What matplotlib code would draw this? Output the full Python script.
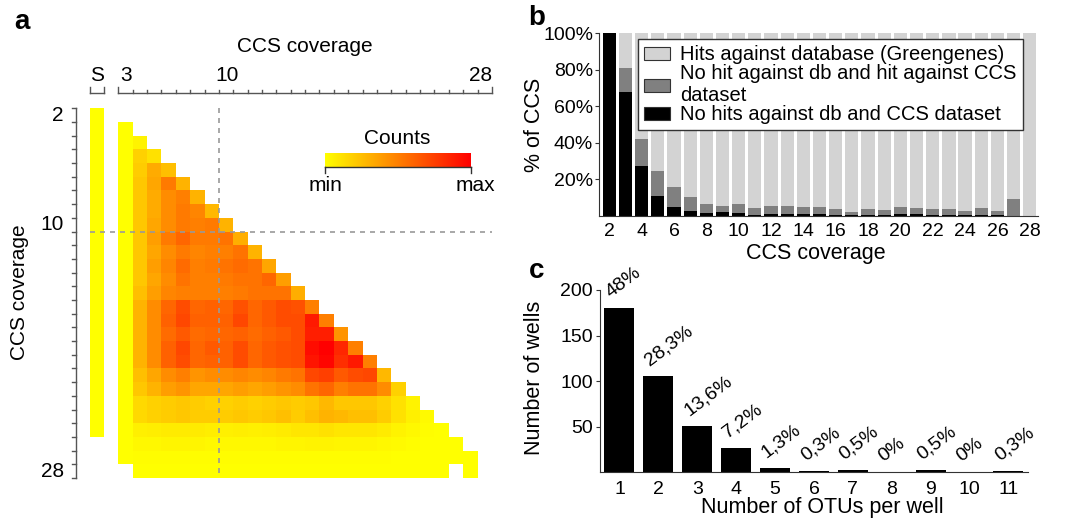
import numpy as np
import matplotlib
matplotlib.use('Agg')
import matplotlib.pyplot as plt
from matplotlib.colors import LinearSegmentedColormap
from matplotlib.patches import Patch

plt.rcParams['font.family'] = ['Liberation Sans', 'DejaVu Sans']

W, H = 1075, 519

# ---------------- panel a: colour level 0 (min) .. 100 (max)
# column "S", rows 2..25
s_col = [0, 0, 0, 0, 0, 0, 0, 0, 0, 0, 0, 0,
         0, 0, 0, 0, 0, 0, 0, 0, 0, 0, 0, 0]
# rows 3..28, values for columns 3, 4, 5, ... (None = no cell)
heat = [
    [0],
    [0, 5],
    [0, 18, 12],
    [0, 20, 33, 25],
    [0, 22, 35, 52, 30],
    [0, 22, 33, 45, 50, 30],
    [0, 22, 33, 45, 52, 48, 28],
    [0, 22, 35, 45, 52, 50, 52, 30],
    [0, 22, 38, 52, 60, 52, 52, 55, 32],
    [0, 22, 35, 45, 52, 48, 50, 50, 55, 30],
    [0, 22, 38, 48, 58, 50, 52, 55, 58, 55, 35],
    [0, 22, 35, 45, 55, 50, 50, 52, 55, 55, 60, 38],
    [0, 25, 38, 48, 50, 50, 50, 50, 52, 55, 55, 55, 32],
    [0, 30, 45, 60, 70, 60, 62, 60, 68, 60, 65, 70, 68, 50],
    [0, 30, 45, 62, 72, 62, 62, 62, 72, 60, 65, 70, 70, 90, 50],
    [0, 30, 45, 58, 65, 58, 60, 60, 62, 58, 62, 65, 70, 88, 88, 42],
    [0, 30, 45, 62, 72, 60, 65, 62, 70, 60, 65, 68, 70, 95, 100, 85, 50],
    [0, 30, 45, 62, 70, 60, 62, 62, 70, 60, 65, 68, 70, 92, 98, 82, 90, 50],
    [0, 25, 35, 45, 50, 42, 45, 45, 48, 45, 48, 52, 55, 72, 75, 65, 70, 72, 28],
    [0, 22, 30, 38, 42, 35, 35, 35, 38, 35, 38, 42, 45, 55, 60, 50, 55, 55, 45, 18],
    [0, 15, 18, 20, 22, 20, 18, 18, 20, 18, 20, 22, 20, 22, 28, 22, 22, 22, 18, 12, 5],
    [0, 15, 18, 20, 22, 20, 20, 20, 22, 20, 22, 25, 20, 25, 30, 28, 25, 25, 20, 12, 6, 2],
    [0, 6, 7, 8, 8, 8, 7, 6, 7, 6, 7, 8, 10, 10, 12, 10, 10, 10, 8, 5, 3, 1, 0],
    [0, 3, 3, 4, 4, 4, 3, 3, 3, 3, 3, 4, 4, 5, 5, 4, 4, 4, 3, 2, 1, 0, 0, 0],
    [0, 1, 1, 1, 1, 1, 1, 1, 1, 1, 1, 1, 1, 1, 1, 1, 1, 1, 1, 0, 0, 0, 0, 0, 0],
    [None, 0, 0, 0, 0, 0, 0, 0, 0, 0, 0, 0, 0, 0, 0, 0, 0, 0, 0, 0, 0, 0, 0, None, 0],
]

# ---------------- panel b: % of CCS
cov_b = [2, 3, 4, 5, 6, 7, 8, 9, 10, 11, 12, 13, 14, 15, 16, 17, 18, 19, 20,
         21, 22, 23, 24, 25, 26, 27, 28]
no_hits = [100, 68.0, 27.4, 10.8, 4.9, 2.7, 1.6, 1.8, 1.3, 0.4, 1.1, 0.7, 0.9, 0.9,
           0.4, 0.2, 0.4, 0.3, 0.7, 0.7, 0.3, 0.3, 0.2, 0.2, 0.2, 0.0, 0.0]
ccs_only = [0, 12.8, 14.5, 13.9, 10.6, 7.3, 4.6, 3.7, 4.9, 4.0, 4.2, 4.6, 3.7, 3.9,
            3.3, 1.8, 3.4, 3.0, 4.1, 3.7, 3.4, 3.4, 2.5, 3.8, 2.5, 9.0, 0.0]
db_hits = [0, 19.2, 58.1, 75.3, 84.5, 90.0, 93.8, 94.5, 93.8, 95.6, 94.7, 94.7, 95.4,
           95.2, 96.3, 98.0, 96.2, 96.7, 95.2, 95.6, 96.3, 96.3, 97.3, 96.0, 97.3,
           91.0, 100]
legend_labels = ['Hits against database (Greengenes)',
                 'No hit against db and hit against CCS\ndataset',
                 'No hits against db and CCS dataset']

# ---------------- panel c: wells
otus = [1, 2, 3, 4, 5, 6, 7, 8, 9, 10, 11]
wells = [180, 106, 51, 27, 5, 1, 2, 0, 2, 0, 1]
pct_labels = ['48%', '28,3%', '13,6%', '7,2%', '1,3%', '0,3%', '0,5%', '0%',
              '0,5%', '0%', '0,3%']


def fx(x):
    return x / W


def fy(y):
    return 1 - y / H


fig = plt.figure(figsize=(W / 100, H / 100), dpi=100)
cmap = LinearSegmentedColormap.from_list('yr', ['#ffff00', '#ff0000'])
FA = 15      # panel a text
FT = 14      # tick labels b, c
FL = 15.5    # axis labels b, c
FG = 14.5    # legend

# ================= panel a
ax = fig.add_axes([fx(75.2), fy(478), 423.9 / W, (478 - 108.3) / H])
M = np.full((27, 28), np.nan)
for i, v in enumerate(s_col):
    M[i, 0] = v
for i, row in enumerate(heat):
    for j, v in enumerate(row):
        if v is not None:
            M[i + 1, 2 + j] = v
ax.pcolormesh(np.arange(1, 30), np.arange(2, 30), np.ma.masked_invalid(M),
              cmap=cmap, vmin=0, vmax=100, antialiased=False)
ax.set_xlim(0, 29.5)
ax.set_ylim(29, 2)
ax.axis('off')

gc = '#555555'
# left axis
xa = 0.054
ax.plot([xa, xa], [2, 29], color=gc, lw=1, clip_on=False)
for y in range(2, 30):
    ax.plot([xa, xa - 0.3], [y, y], color=gc, lw=1, clip_on=False)
for lab in [2, 10, 28]:
    ax.text(-0.78, lab + 0.5, str(lab), ha='right', va='center', fontsize=FA)
# top axis
yt = 0.88
ax.plot([3, 29], [yt, yt], color=gc, lw=1, clip_on=False)
for x in range(4, 29):
    ax.plot([x, x], [yt, yt - 0.22], color=gc, lw=1, clip_on=False)
for x in [3, 29]:
    ax.plot([x, x], [yt, yt - 0.45], color=gc, lw=1, clip_on=False)
ax.plot([1, 2], [yt, yt], color=gc, lw=1, clip_on=False)
for x in [1, 2]:
    ax.plot([x, x], [yt, yt - 0.45], color=gc, lw=1, clip_on=False)
for x, lab in [(1.5, 'S'), (3.53, '3'), (10.54, '10'), (28.2, '28')]:
    ax.text(x, yt - 0.58, lab, ha='center', va='bottom', fontsize=FA)

# dashed guides
ax.plot([10, 10], [2, 29], color='#999999', lw=1.2, ls=(0, (3, 3)), clip_on=False)
ax.plot([1, 29], [11, 11], color='#999999', lw=1.2, ls=(0, (3, 3)), clip_on=False)

fig.text(fx(305), fy(47), 'CCS coverage', ha='center', va='center', fontsize=FA)
fig.text(fx(20), fy(292), 'CCS coverage', ha='center', va='center',
         rotation=90, fontsize=FA)

# colour key
cax = fig.add_axes([fx(325), fy(167), 145.7 / W, 14 / H])
cax.imshow(np.linspace(0, 1, 256)[None, :], cmap=cmap, aspect='auto',
           extent=[0, 1, 0, 1])
cax.set_xlim(0, 1)
cax.set_ylim(0, 1)
cax.axis('off')
cax.plot([0, 1], [0, 0], color='#333333', lw=1, clip_on=False)
cax.plot([0, 0], [0, -0.43], color='#333333', lw=1, clip_on=False)
cax.plot([1, 1], [0, -0.43], color='#333333', lw=1, clip_on=False)
cax.text(0, -1.29, 'min', ha='center', va='center', fontsize=FA)
cax.text(1.03, -1.29, 'max', ha='center', va='center', fontsize=FA)
cax.text(0.4975, 2.0, 'Counts', ha='center', va='center', fontsize=FA)

# ================= panel b
axb = fig.add_axes([fx(599.3), fy(215.7), 439 / W, 182.4 / H])
nh = np.array(no_hits)
co = np.array(ccs_only)
axb.bar(cov_b, no_hits, width=0.82, color='black')
axb.bar(cov_b, ccs_only, width=0.82, bottom=nh, color='#808080')
axb.bar(cov_b, db_hits, width=0.82, bottom=nh + co, color='#d3d3d3')
axb.set_xlim(1.38, 28.53)
axb.set_ylim(0, 100)
axb.set_yticks([20, 40, 60, 80, 100])
axb.set_yticklabels(['20%', '40%', '60%', '80%', '100%'])
axb.set_xticks(cov_b[::2])
axb.tick_params(axis='x', length=0, pad=5, labelsize=FT)
axb.tick_params(axis='y', length=3, pad=1.5, labelsize=FT, color='#333333')
for s in ['top', 'right']:
    axb.spines[s].set_visible(False)
for s in ['left', 'bottom']:
    axb.spines[s].set_color('#333333')
handles = [Patch(facecolor=c, edgecolor='#333333', lw=0.8)
           for c in ['#d3d3d3', '#808080', 'black']]
leg = axb.legend(handles, legend_labels, loc='upper right',
                 bbox_to_anchor=(0.9645, 0.967), borderaxespad=0,
                 fontsize=FG, fancybox=False, framealpha=1, edgecolor='#333333',
                 handlelength=1.3, handleheight=0.6, handletextpad=0.5,
                 labelspacing=0.0, borderpad=0.3)
leg.get_frame().set_linewidth(1)
fig.text(fx(816), fy(254), 'CCS coverage', ha='center', va='center', fontsize=FL)
fig.text(fx(534), fy(125), '% of CCS', ha='center', va='center',
         rotation=90, fontsize=FL)

# ================= panel c
axc = fig.add_axes([fx(600), fy(472.3), 427.9 / W, 182.3 / H])
axc.bar(otus, wells, width=0.77, color='black')
axc.set_xlim(0.5, 11.5)
axc.set_ylim(0, 200)
axc.set_yticks([50, 100, 150, 200])
axc.set_xticks(otus)
axc.tick_params(axis='x', length=0, pad=6, labelsize=FT)
axc.tick_params(axis='y', length=3, pad=2, labelsize=FT, color='#333333')
for s in ['top', 'right']:
    axc.spines[s].set_visible(False)
for s in ['left', 'bottom']:
    axc.spines[s].set_color('#333333')
for x, v, lab in zip(otus, wells, pct_labels):
    axc.annotate(lab, (x, v), xytext=(-4.5, 5), textcoords='offset points',
                 rotation=37, rotation_mode='anchor', ha='left', va='bottom',
                 fontsize=FT)
fig.text(fx(822), fy(507), 'Number of OTUs per well', ha='center', va='center',
         fontsize=FL)
fig.text(fx(534), fy(378), 'Number of wells', ha='center', va='center',
         rotation=90, fontsize=FL)

# panel letters
fig.text(fx(22), fy(22), 'a', ha='center', va='center', fontsize=20, fontweight='bold')
fig.text(fx(537), fy(18), 'b', ha='center', va='center', fontsize=20, fontweight='bold')
fig.text(fx(537), fy(271), 'c', ha='center', va='center', fontsize=20, fontweight='bold')

fig.savefig('out.png', dpi=100)
